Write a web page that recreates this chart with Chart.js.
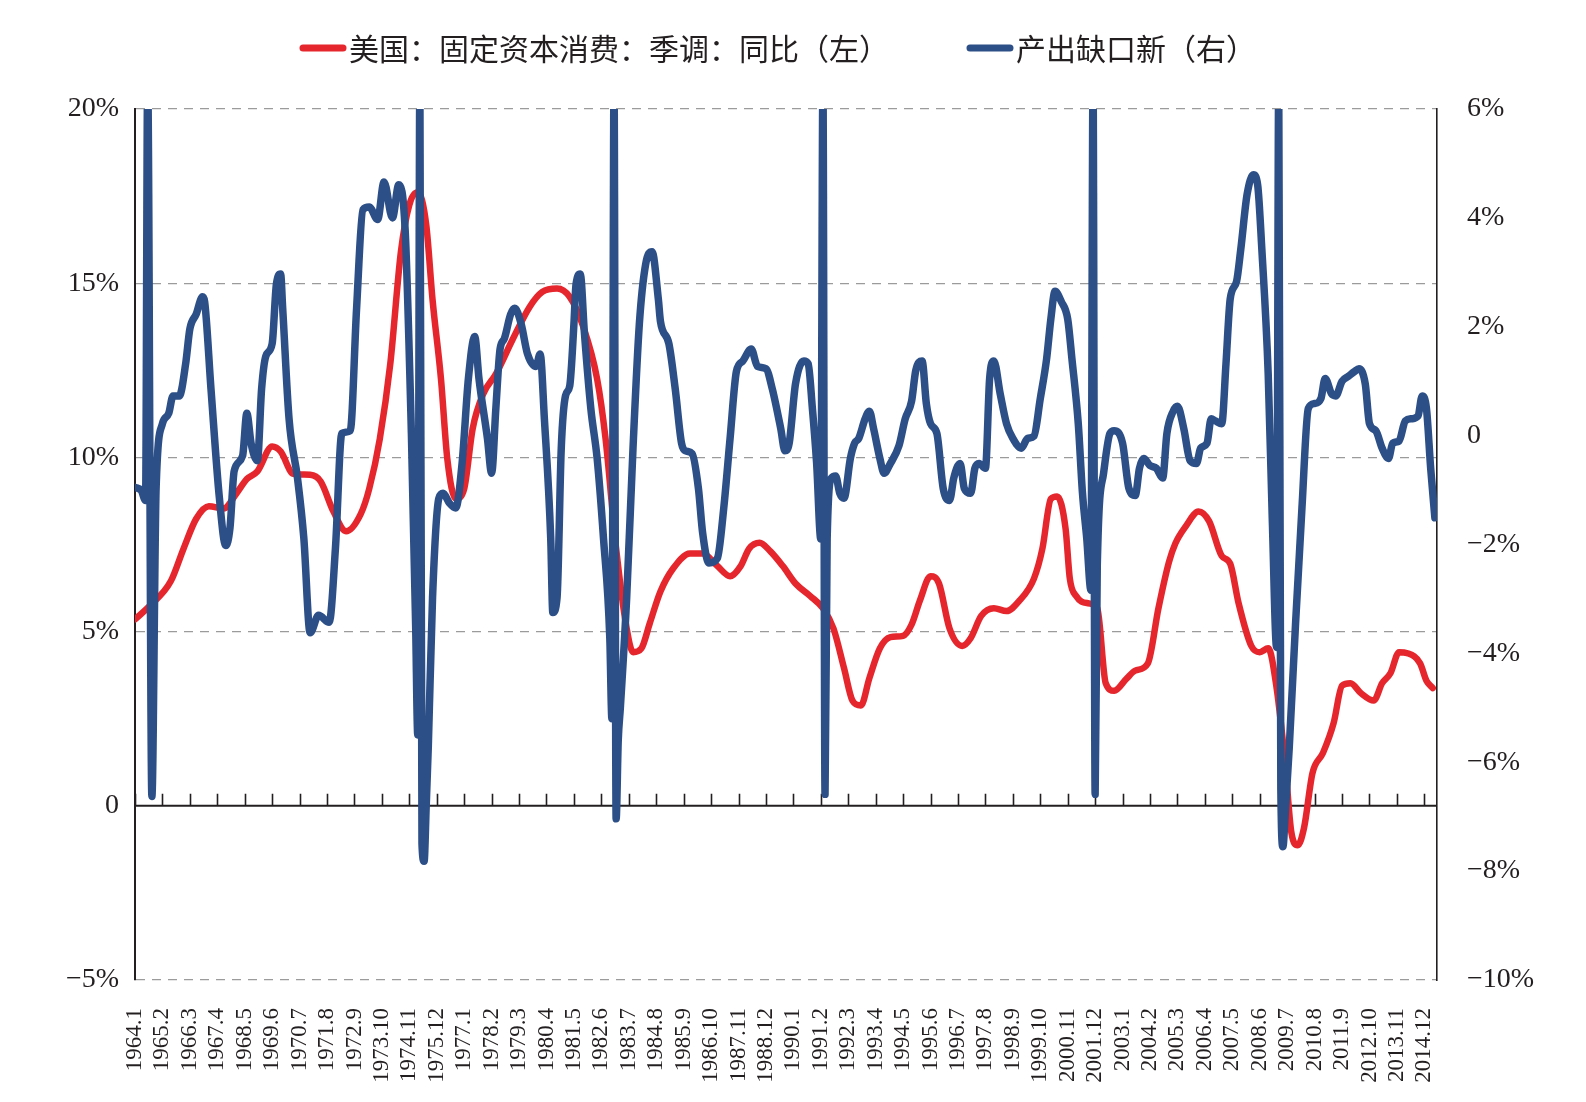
<!DOCTYPE html>
<html lang="zh-CN">
<head>
<meta charset="utf-8">
<title>固定资本消费与产出缺口</title>
<script src="https://cdn.jsdelivr.net/npm/chart.js@4.4.1/dist/chart.umd.min.js"></script>
<style>
  html, body { margin: 0; padding: 0; background: #fff; }
  #wrap { width: 1586px; height: 1102px; position: relative; }
</style>
</head>
<body>
<div id="wrap"><canvas id="chart"></canvas></div>
<script>
// =============================================
// Data (x = months counted from 1964.1)
// =============================================

const xEnd = '2015.6';

const xTickLabels = [
  '1964.1', '1965.2', '1966.3', '1967.4', '1968.5', '1969.6', '1970.7', '1971.8', '1972.9', '1973.10', '1974.11', '1975.12',
  '1977.1', '1978.2', '1979.3', '1980.4', '1981.5', '1982.6', '1983.7', '1984.8', '1985.9', '1986.10', '1987.11', '1988.12',
  '1990.1', '1991.2', '1992.3', '1993.4', '1994.5', '1995.6', '1996.7', '1997.8', '1998.9', '1999.10', '2000.11', '2001.12',
  '2003.1', '2004.2', '2005.3', '2006.4', '2007.5', '2008.6', '2009.7', '2010.8', '2011.9', '2012.10', '2013.11', '2014.12'
];

const redLabel = '美国：固定资本消费：季调：同比（左）';
const redMonths = [
  0, 7, 17, 23, 29, 35, 42, 48, 53, 58, 65, 69, 75, 83, 88, 94, 100, 107, 111, 116,
  121, 126, 130, 134, 138, 141, 145, 148, 152, 156, 160, 165, 171, 179, 187, 193, 200, 206, 212, 219,
  223, 228, 233, 236, 240, 244, 249, 255, 263, 269, 276, 282, 287, 291, 296, 301, 307, 313, 320, 326,
  331, 336, 340, 344, 348, 353, 358, 364, 368, 372, 377, 381, 386, 392, 396, 401, 407, 413, 419, 426,
  430, 434, 437, 441, 443, 446, 452, 456, 460, 464, 470, 474, 480, 485, 490, 493, 498, 504, 509, 515,
  519, 523, 529, 533, 537, 541, 545, 548, 551, 554, 558, 563, 568, 572, 576, 581, 587, 591, 595, 599,
  603, 609, 612, 615
];
const redValues = [
  5.35, 5.74, 6.45, 7.38, 8.24, 8.6, 8.53, 8.96, 9.38, 9.6, 10.31, 10.17, 9.53, 9.5, 9.31, 8.45, 7.88, 8.38, 9.1, 10.53,
  12.7, 15.9, 17.25, 17.61, 16.68, 14.53, 12.25, 9.96, 8.81, 9.1, 10.82, 11.82, 12.39, 13.39, 14.32, 14.75, 14.85, 14.61, 13.82, 12.25,
  10.53, 7.38, 5.09, 4.41, 4.52, 5.25, 6.15, 6.81, 7.24, 7.24, 6.88, 6.59, 6.88, 7.38, 7.55, 7.31, 6.88, 6.38, 6.02, 5.67,
  5.09, 3.95, 3.02, 2.88, 3.66, 4.52, 4.84, 4.88, 5.2, 5.9, 6.59, 6.38, 5.09, 4.59, 4.81, 5.45, 5.67, 5.59, 5.88, 6.52,
  7.38, 8.81, 8.88, 7.95, 6.52, 6.02, 5.81, 5.67, 3.52, 3.3, 3.66, 3.88, 4.09, 5.67, 7.0, 7.53, 8.03, 8.45, 8.17, 7.17,
  6.95, 5.81, 4.59, 4.41, 4.52, 3.38, 1.23, -0.77, -1.13, -0.63, 0.94, 1.52, 2.37, 3.45, 3.52, 3.23, 3.02, 3.52, 3.81, 4.41,
  4.38, 4.09, 3.59, 3.38
];

const blueLabel = '产出缺口新（右）';
const blueMonths = [
  0, 3, 5, 6, 8, 10, 13, 16, 18, 21, 24, 26, 29, 32, 33, 36, 40, 43, 45, 47,
  51, 53, 55, 58, 60, 62, 65, 67, 69, 70, 73, 77, 80, 83, 87, 92, 95, 98, 102, 105,
  108, 111, 115, 118, 122, 125, 128, 131, 133, 134, 135, 136, 137, 138, 139, 141, 144, 146, 149, 152,
  155, 158, 161, 163, 167, 169, 171, 173, 175, 178, 180, 183, 186, 190, 192, 194, 197, 198, 200, 202,
  204, 206, 208, 209, 211, 213, 216, 219, 222, 225, 226, 227, 228, 229, 230, 233, 236, 239, 242, 245,
  248, 249, 253, 256, 259, 261, 264, 267, 269, 272, 276, 279, 282, 285, 288, 292, 295, 299, 302, 306,
  308, 310, 313, 317, 319, 321, 323, 325, 326, 327, 328, 330, 332, 334, 336, 339, 341, 343, 346, 348,
  350, 353, 355, 358, 362, 365, 368, 370, 373, 375, 377, 380, 383, 386, 388, 391, 393, 396, 398, 400,
  403, 405, 407, 410, 413, 416, 420, 423, 426, 429, 432, 434, 436, 439, 442, 444, 447, 449, 451, 453,
  454, 455, 456, 459, 462, 464, 468, 471, 474, 476, 478, 481, 484, 487, 489, 492, 494, 497, 500, 503,
  505, 508, 510, 512, 515, 517, 519, 522, 524, 527, 530, 532, 534, 537, 539, 541, 542, 543, 544, 545,
  547, 550, 553, 556, 559, 562, 564, 567, 569, 572, 575, 578, 580, 583, 585, 588, 591, 594, 596, 599,
  602, 605, 608, 610, 612, 614, 616
];
const blueValues = [
  -0.95, -1.01, -1.19, 6.5, -6.63, -0.97, 0.22, 0.41, 0.73, 0.73, 1.32, 1.96, 2.23, 2.55, 2.46, 0.86, -1.15, -2.02, -1.7, -0.65,
  -0.37, 0.41, -0.14, -0.46, 0.86, 1.46, 1.69, 2.78, 2.97, 2.33, 0.31, -0.78, -1.88, -3.62, -3.3, -3.43, -2.06, 0.04, 0.09, 2.33,
  4.15, 4.2, 3.97, 4.66, 4.0, 4.61, 3.79, 0.0, -3.5, -5.5, 6.5, -7.5, -7.82, -6.8, -5.7, -2.98, -1.15, -1.06, -1.24, -1.33,
  -0.51, 1.05, 1.82, 1.05, -0.05, -0.69, 0.5, 1.59, 1.78, 2.23, 2.34, 2.05, 1.5, 1.27, 1.5, 0.31, -1.88, -3.25, -2.98, -0.23,
  0.73, 0.91, 2.05, 2.78, 2.97, 1.87, 0.5, -0.42, -1.88, -3.71, -5.2, 6.5, -7.04, -5.6, -5.0, -2.98, -0.23, 2.05, 3.15, 3.38,
  2.51, 2.1, 1.69, 0.86, -0.14, -0.28, -0.33, -0.97, -1.79, -2.34, -2.25, -1.33, -0.05, 1.18, 1.37, 1.59, 1.27, 1.23, 0.86, 0.13,
  -0.28, -0.14, 0.95, 1.37, 1.32, 0.5, -0.5, -1.9, 6.5, -6.59, -1.9, -0.78, -0.74, -1.06, -1.15, -0.42, -0.14, -0.05, 0.31, 0.45,
  0.13, -0.42, -0.69, -0.51, -0.19, 0.31, 0.63, 1.2, 1.37, 0.59, 0.22, 0.04, -0.97, -1.19, -0.78, -0.51, -0.97, -1.06, -0.6, -0.51,
  -0.6, 1.05, 1.37, 0.77, 0.22, -0.05, -0.23, -0.05, -0.01, 0.68, 1.41, 2.14, 2.65, 2.46, 2.14, 1.41, 0.22, -1.06, -1.88, -2.84,
  6.5, -6.59, -2.4, -0.69, 0.04, 0.09, -0.14, -0.97, -1.1, -0.6, -0.42, -0.55, -0.6, -0.78, 0.04, 0.45, 0.54, 0.13, -0.46, -0.51,
  -0.23, -0.14, 0.31, 0.27, 0.22, 1.32, 2.51, 2.83, 3.42, 4.43, 4.79, 4.61, 3.42, 1.14, -1.61, -3.89, 6.5, -6.5, -7.55, -7.0,
  -5.72, -3.43, -1.33, 0.5, 0.59, 0.68, 1.05, 0.77, 0.73, 1.0, 1.09, 1.18, 1.23, 0.95, 0.22, 0.09, -0.23, -0.42, -0.14, -0.1,
  0.27, 0.31, 0.36, 0.73, 0.5, -0.6, -1.51
];

// =============================================
// Helpers
// =============================================

const RED = '#e5262d';
const BLUE = '#2c4f87';
const INK = '#231f20';
const SERIF = '"Liberation Serif", "Times New Roman", serif';
const CJK = '"Noto Sans CJK SC", "Noto Sans", sans-serif';

const toMonth = s => {
  const [y, m] = s.split('.').map(Number);
  return (y - 1964) * 12 + m - 1;
};
const tickMonths = xTickLabels.map(toMonth);
const pct = v => v === 0 ? '0' : (v < 0 ? '\u2212' : '') + Math.abs(v) + '%';
const toPoints = (months, values) => months.map((m, i) => ({ x: m, y: values[i] }));

// zero line with upward tick marks, drawn under the series
const zeroAxis = {
  id: 'zeroAxis',
  beforeDatasetsDraw(chart) {
    const { ctx, chartArea, scales } = chart;
    const y0 = scales.y.getPixelForValue(0);
    ctx.save();
    ctx.strokeStyle = INK;
    ctx.lineWidth = 2;
    ctx.beginPath();
    ctx.moveTo(chartArea.left, y0);
    ctx.lineTo(chartArea.right, y0);
    ctx.stroke();
    ctx.lineWidth = 1.6;
    ctx.beginPath();
    tickMonths.forEach(m => {
      const x = Math.round(scales.x.getPixelForValue(m)) + 0.5;
      ctx.moveTo(x, y0);
      ctx.lineTo(x, y0 - 12);
    });
    ctx.stroke();
    ctx.restore();
  }
};

// legend: short thick line followed by the label, centred above the plot
const lineLegend = {
  id: 'lineLegend',
  afterDraw(chart) {
    const { ctx } = chart;
    const sample = 46, textGap = 3, itemGap = 78, centerX = 778, y = 48;
    ctx.save();
    ctx.font = `30px ${CJK}`;
    ctx.textBaseline = 'middle';
    ctx.textAlign = 'left';
    const items = chart.data.datasets.map(ds => ({
      text: ds.label, color: ds.borderColor, w: ctx.measureText(ds.label).width
    }));
    const total = items.reduce((s, it) => s + sample + textGap + it.w, 0) + itemGap * (items.length - 1);
    let x = centerX - total / 2;
    items.forEach(it => {
      ctx.strokeStyle = it.color;
      ctx.lineWidth = 7;
      ctx.lineCap = 'round';
      ctx.beginPath();
      ctx.moveTo(x + 3, y);
      ctx.lineTo(x + sample - 3, y);
      ctx.stroke();
      ctx.fillStyle = INK;
      ctx.fillText(it.text, x + sample + textGap, y + 1);
      x += sample + textGap + it.w + itemGap;
    });
    ctx.restore();
  }
};

// =============================================
// Chart
// =============================================

new Chart(document.getElementById('chart'), {
  type: 'line',
  data: {
    datasets: [
      {
        label: redLabel,
        data: toPoints(redMonths, redValues),
        yAxisID: 'y',
        borderColor: RED,
        backgroundColor: RED,
        borderWidth: 6.5,
        pointRadius: 0,
        cubicInterpolationMode: 'monotone',
        borderJoinStyle: 'round',
        borderCapStyle: 'round',
        order: 2
      },
      {
        label: blueLabel,
        data: toPoints(blueMonths, blueValues),
        yAxisID: 'y1',
        borderColor: BLUE,
        backgroundColor: BLUE,
        borderWidth: 7.5,
        pointRadius: 0,
        cubicInterpolationMode: 'monotone',
        borderJoinStyle: 'round',
        borderCapStyle: 'round',
        order: 1
      }
    ]
  },
  options: {
    responsive: true,
    maintainAspectRatio: false,
    animation: false,
    devicePixelRatio: 1,
    layout: { padding: { top: 109, left: 0, right: 0, bottom: 0 } },
    plugins: {
      legend: { display: false },
      tooltip: { enabled: false }
    },
    scales: {
      x: {
        type: 'linear',
        min: 0,
        max: toMonth(xEnd),
        grid: { display: false, drawTicks: false },
        border: { display: false },
        afterBuildTicks: scale => { scale.ticks = tickMonths.map(v => ({ value: v })); },
        afterFit: scale => { scale.height = 122; },
        ticks: {
          autoSkip: false,
          maxRotation: 90,
          minRotation: 90,
          padding: 28,
          color: INK,
          font: { family: SERIF, size: 23 },
          callback: (v, i) => xTickLabels[i]
        }
      },
      y: {
        position: 'left',
        min: -5,
        max: 20,
        afterFit: scale => { scale.width = 135; },
        grid: {
          drawTicks: false,
          lineWidth: 1.2,
          color: c => (c.tick && c.tick.value === 0) ? 'rgba(0,0,0,0)' : '#9b9b9b'
        },
        border: { display: true, color: INK, width: 2, dash: [9, 7] },
        ticks: {
          stepSize: 5,
          padding: 16,
          color: INK,
          font: { family: SERIF, size: 28 },
          callback: v => pct(v)
        }
      },
      y1: {
        position: 'right',
        min: -10,
        max: 6,
        afterFit: scale => { scale.width = 149; },
        grid: { display: false, drawTicks: false },
        border: { display: true, color: INK, width: 1.6 },
        ticks: {
          stepSize: 2,
          padding: 30,
          color: INK,
          font: { family: SERIF, size: 28 },
          callback: v => pct(v)
        }
      }
    }
  },
  plugins: [zeroAxis, lineLegend]
});
</script>
</body>
</html>
